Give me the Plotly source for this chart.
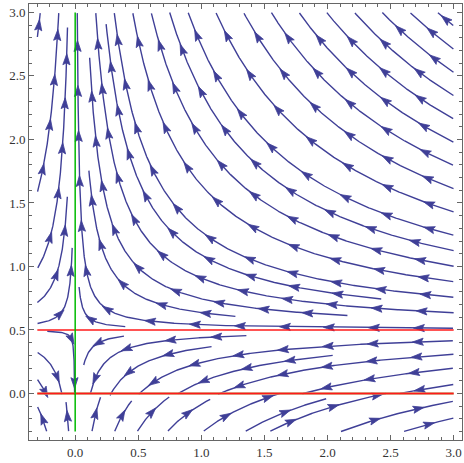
import math
import numpy as np
import plotly.graph_objects as go

# ---- data / parameters ----
# vector field: x' = -x*y, y' = y*(y - y_split)
y_split = 0.5
x_range = [-0.3, 3.0]
y_range = [-0.3, 3.0]
tick_vals = [0.0, 0.5, 1.0, 1.5, 2.0, 2.5, 3.0]
tick_text = ["0.0", "0.5", "1.0", "1.5", "2.0", "2.5", "3.0"]
hline_y = [0.5, 0.0]
vline_x = [0.0]

pad = 0.02 * (x_range[1] - x_range[0])
xr = [x_range[0] - pad, x_range[1] + pad]
yr = [y_range[0] - pad, y_range[1] + pad]

W, H = 464, 463
ml, mr, mt, mb = 29, 2, 4, 23
sx = (W - ml - mr) / (xr[1] - xr[0])
sy = (H - mt - mb) / (yr[1] - yr[0])


def field(x, y):
    return -x * y, y * (y - y_split)


def to_px(x, y):
    return (x - xr[0]) * sx, (y - yr[0]) * sy


def to_data(px, py):
    return px / sx + xr[0], py / sy + yr[0]


def dir_px(px, py):
    x, y = to_data(px, py)
    u, v = field(x, y)
    u *= sx
    v *= sy
    n = math.hypot(u, v)
    if n < 1e-9:
        return None
    return u / n, v / n


dsep = 19.0
dtest = 0.5 * dsep
h = 1.0
cell = dsep
grid = {}
X0, Y0 = to_px(x_range[0], y_range[0])
X1, Y1 = to_px(x_range[1], y_range[1])


def near(px, py, r):
    ci, cj = int(px // cell), int(py // cell)
    r2 = r * r
    for di in (-1, 0, 1):
        for dj in (-1, 0, 1):
            for (qx, qy) in grid.get((ci + di, cj + dj), ()):
                if (qx - px) ** 2 + (qy - py) ** 2 < r2:
                    return True
    return False


def add(pts):
    for (px, py) in pts:
        grid.setdefault((int(px // cell), int(py // cell)), []).append((px, py))


def integrate(px, py, sgn):
    pts = []
    for _ in range(3000):
        d1 = dir_px(px, py)
        if d1 is None:
            break
        mx, my = px + sgn * d1[0] * h / 2, py + sgn * d1[1] * h / 2
        d2 = dir_px(mx, my)
        if d2 is None:
            break
        nx, ny = px + sgn * d2[0] * h, py + sgn * d2[1] * h
        if not (X0 <= nx <= X1 and Y0 <= ny <= Y1):
            break
        if near(nx, ny, dtest):
            break
        if len(pts) > 20 and math.hypot(nx - pts[-20][0], ny - pts[-20][1]) < 5:
            break
        pts.append((nx, ny))
        px, py = nx, ny
    return pts


lines = []
step = dsep * 0.5
sxs = np.arange(X0 + 2, X1, step)
sys_ = np.arange(Y0 + 2, Y1, step)
for gy in sys_[::-1]:
    for gx in sxs:
        if near(gx, gy, dsep * 0.95):
            continue
        if dir_px(gx, gy) is None:
            continue
        b = integrate(gx, gy, -1)
        f = integrate(gx, gy, 1)
        pts = b[::-1] + [(gx, gy)] + f
        if len(pts) < 12:
            continue
        add(pts)
        lines.append(pts)

lx, ly = [], []
ax_, ay_ = [], []
arrow_len, arrow_w = 11.0, 3.6
spacing = 45.0
for pts in lines:
    for (px, py) in pts:
        x, y = to_data(px, py)
        lx.append(x)
        ly.append(y)
    lx.append(None)
    ly.append(None)
    s = [0.0]
    for i in range(1, len(pts)):
        s.append(s[-1] + math.hypot(pts[i][0] - pts[i - 1][0], pts[i][1] - pts[i - 1][1]))
    total = s[-1]
    if total < arrow_len * 1.5:
        continue
    n_ar = max(1, int(total // spacing))
    start = (total - (n_ar - 1) * spacing) / 2
    j = 0
    for k in range(n_ar):
        target = start + k * spacing
        while j < len(s) - 2 and s[j + 1] < target:
            j += 1
        px, py = pts[j]
        d = dir_px(px, py)
        if d is None:
            continue
        dx, dy = d
        nx_, ny_ = -dy, dx
        tip = (px + 0.6 * arrow_len * dx, py + 0.6 * arrow_len * dy)
        back = (px - 0.4 * arrow_len * dx, py - 0.4 * arrow_len * dy)
        notch = (px - 0.22 * arrow_len * dx, py - 0.22 * arrow_len * dy)
        poly = [tip,
                (back[0] + arrow_w * nx_, back[1] + arrow_w * ny_),
                notch,
                (back[0] - arrow_w * nx_, back[1] - arrow_w * ny_),
                tip]
        for (qx, qy) in poly:
            x, y = to_data(qx, qy)
            ax_.append(x)
            ay_.append(y)
        ax_.append(None)
        ay_.append(None)

stream_color = "#3f3f97"
fig = go.Figure()
fig.add_trace(go.Scatter(x=lx, y=ly, mode="lines",
                         line=dict(color=stream_color, width=1.4),
                         hoverinfo="skip", showlegend=False))
fig.add_trace(go.Scatter(x=ax_, y=ay_, mode="lines", fill="toself",
                         fillcolor=stream_color,
                         line=dict(color=stream_color, width=0.8),
                         hoverinfo="skip", showlegend=False))
fig.add_trace(go.Scatter(x=x_range, y=[hline_y[1]] * 2, mode="lines",
                         line=dict(color="#c8a070", width=2.6),
                         hoverinfo="skip", showlegend=False))
fig.add_trace(go.Scatter(x=x_range, y=[hline_y[1]] * 2, mode="lines",
                         line=dict(color="#ff1a1a", width=1.3),
                         hoverinfo="skip", showlegend=False))
fig.add_trace(go.Scatter(x=x_range, y=[hline_y[0]] * 2, mode="lines",
                         line=dict(color="#ff1a1a", width=1.5),
                         hoverinfo="skip", showlegend=False))
fig.add_trace(go.Scatter(x=[vline_x[0]] * 2, y=y_range, mode="lines",
                         line=dict(color="#00bb00", width=1.5),
                         hoverinfo="skip", showlegend=False))

axis_common = dict(
    showgrid=False, zeroline=False, showline=True, linecolor="#666666",
    linewidth=1, mirror="allticks", ticks="inside", ticklen=5, tickwidth=1,
    tickcolor="#666666", tickmode="array", tickvals=tick_vals, ticktext=tick_text,
    minor=dict(ticks="inside", dtick=0.1, tick0=0, ticklen=3,
               tickcolor="#666666", tickwidth=1),
)
fig.update_xaxes(range=xr, **axis_common)
fig.update_yaxes(range=yr, **axis_common)
fig.update_layout(width=W, height=H, margin=dict(l=ml, r=mr, t=mt, b=mb),
                  plot_bgcolor="white", paper_bgcolor="white",
                  font=dict(family="Liberation Serif", size=13, color="#333333"),
                  xaxis_tickfont=dict(family="Liberation Serif", size=13, color="#333333"),
                  yaxis_tickfont=dict(family="Liberation Serif", size=13, color="#333333"))
fig.write_html("out.html")
